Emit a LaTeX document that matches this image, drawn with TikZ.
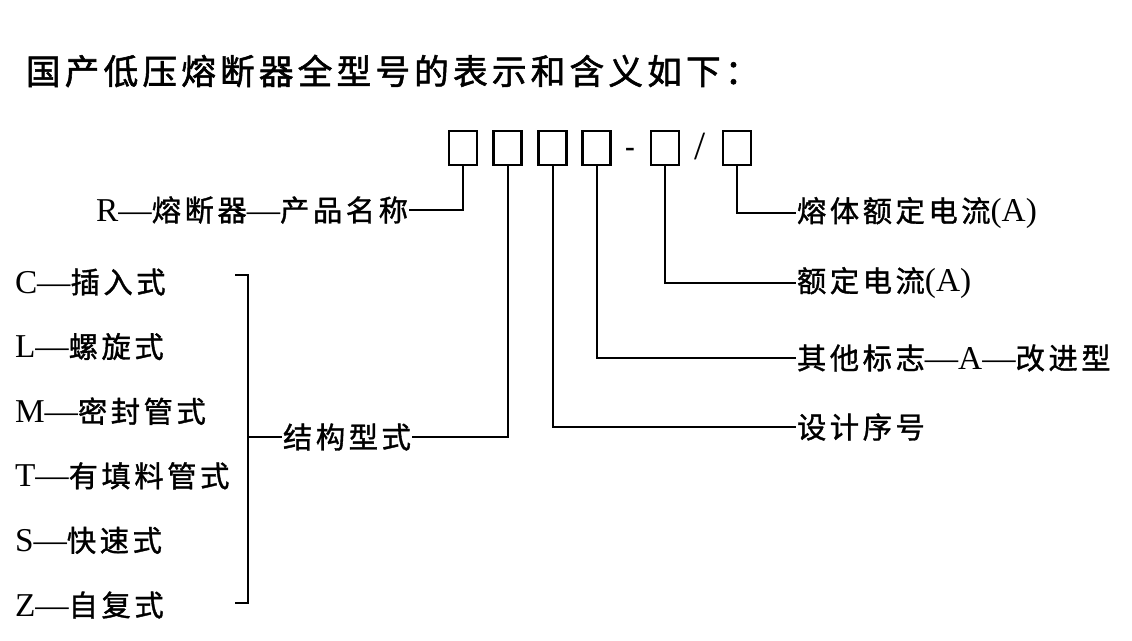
\documentclass[tikz,border=0pt]{standalone}
\usepackage{fontspec}
\setmainfont{Liberation Serif}
\newfontfamily\zhfont[LetterSpace=12,FakeBold=1.2]{Noto Sans CJK SC}
\newfontfamily\headfont[LetterSpace=12,FakeBold=1.6]{Noto Sans CJK SC}
\newcommand{\zh}[1]{{\zhfont\fontsize{22}{26}\selectfont #1}}
\newcommand{\dsh}{—}

\begin{document}
\begin{tikzpicture}[x=0.75pt,y=-0.75pt,line width=1.5pt,
  box/.style = {draw, line width=2pt, minimum width=21pt,
    minimum height=25.5pt, inner sep=0pt},
  lab/.style = {anchor=west, inner sep=0pt,
    font=\fontsize{25}{29}\selectfont}]
  \useasboundingbox (0,0) rectangle (1132,641);
  \node[anchor=west, inner sep=0pt] (title) at (25,71)
    {\headfont\fontsize{26}{30}\selectfont 国产低压熔断器全型号的表示和含义如下：};
  % model code boxes
  \foreach \n/\x in {1/463,2/507.5,3/552.5,4/596.5,5/665,6/737}
    \node[box] (b\n) at (\x,148) {};
  \node[inner sep=0pt, font=\fontsize{22}{26}\selectfont\bfseries] (hy) at (630,152) {-};
  \node[inner sep=0pt, font=\fontsize{30}{34}\selectfont] (sl) at (700,147) {/};
  % left side
  \node[lab, anchor=east] (pm) at (409,210) {R\dsh\zh{熔断器}\dsh\zh{产品名称}};
  \foreach \i/\l/\t in {0/C/插入式,1/L/螺旋式,2/M/密封管式,3/T/有填料管式,4/S/快速式,5/Z/自复式}
    \node[lab] (s\l) at (14,282+64.6*\i) {\l\dsh\zh{\t}};
  \node[lab] (jg) at (282,437) {\zh{结构型式}};
  \coordinate (brtop) at (235,275);
  \coordinate (brbot) at (235,603);
  \coordinate (brmid) at (248,437);
  \draw (brtop) -| (brmid) |- (brbot);
  \draw (brmid) -- (jg.west);
  % right side
  \node[lab] (rt6) at (796,213) {\zh{熔体额定电流}(A)};
  \node[lab] (rt5) at (796,283) {\zh{额定电流}(A)};
  \node[lab] (rt4) at (796,358) {\zh{其他标志}\dsh A\dsh\zh{改进型}};
  \node[lab] (rt3) at (796,427) {\zh{设计序号}};
  % connectors
  \draw (b1.south) |- (pm.east);
  \draw (b2.south) |- (jg.east);
  \draw (b3.south) |- (rt3.west);
  \draw (b4.south) |- (rt4.west);
  \draw (b5.south) |- (rt5.west);
  \draw (b6.south) |- (rt6.west);
\end{tikzpicture}
\end{document}
